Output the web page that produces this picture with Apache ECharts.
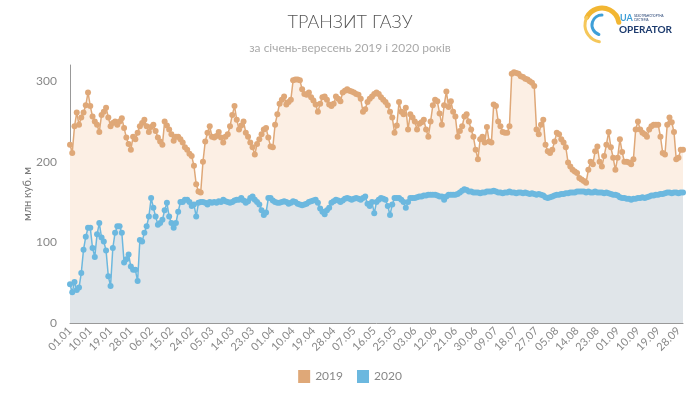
<!DOCTYPE html>
<html>
<head>
<meta charset="utf-8">
<script src="https://cdn.jsdelivr.net/npm/echarts@6/dist/echarts.min.js"></script>
<style>html,body{margin:0;padding:0;background:#fff}#c{width:700px;height:393px}</style>
</head>
<body>
<div id="c"></div>
<script>
var titleText = 'ТРАНЗИТ ГАЗУ';
var subtitleText = 'за січень-вересень 2019 і 2020 років';
var yAxisName = 'млн куб. м';
var seriesNames = ['2019', '2020'];
var yTicks = [0, 100, 200, 300];

var values2019 = [
221,211,244,261,246,255,261,270,286,269,256,250,246,237,258,262,267,255,244,248,
250,246,250,254,242,230,222,215,231,228,236,244,248,252,244,237,243,246,238,230,
225,221,250,245,240,234,226,231,231,228,224,218,215,210,207,195,172,163,162,200,
225,236,244,231,230,232,237,230,224,231,234,244,258,269,252,240,245,250,236,231,
224,218,209,222,228,234,240,242,230,219,218,246,259,272,277,281,271,274,277,301,
302,302,301,290,284,283,286,280,276,271,262,272,280,281,277,271,269,272,281,278,
275,286,288,290,288,287,286,284,283,278,262,265,274,278,281,284,286,284,280,277,
274,270,262,255,236,245,274,262,259,267,240,259,255,250,240,247,249,252,240,231,
250,270,277,275,260,246,270,287,268,275,262,256,231,238,244,256,259,250,240,231,
215,203,228,231,224,243,225,224,271,269,250,244,237,236,236,244,309,311,310,309,
306,305,303,302,300,298,294,240,234,246,252,221,213,211,215,225,236,234,228,224,
218,199,194,190,188,186,180,178,176,174,190,200,197,213,219,200,194,207,221,237,
218,205,190,205,228,212,200,200,199,197,203,240,250,240,236,234,231,240,244,246,
246,246,231,211,209,246,255,249,237,203,205,215,215
];

var values2020 = [
48,38,51,41,44,62,91,107,118,118,93,82,110,124,106,101,90,58,46,93,
112,120,120,112,75,79,85,70,66,66,52,103,101,112,120,132,155,143,132,122,
124,128,140,149,132,124,118,124,138,150,150,153,153,150,145,147,132,149,150,150,
149,147,150,149,150,149,151,150,153,151,150,149,150,152,153,153,155,152,149,151,
155,157,153,150,147,140,134,137,155,155,152,150,149,149,150,151,150,148,149,151,
150,148,147,146,147,148,150,151,152,153,149,142,138,135,140,143,149,151,153,152,
150,152,154,155,154,153,154,155,154,153,155,157,148,145,150,136,150,153,155,154,
153,145,134,147,155,155,155,153,150,143,150,155,155,155,156,157,157,158,158,159,
159,159,159,158,157,157,153,157,159,159,159,159,160,162,164,166,165,163,163,162,
162,162,161,162,162,163,163,163,164,163,162,162,161,162,162,163,162,162,161,162,
162,161,162,161,160,161,160,159,160,159,158,156,155,156,157,158,159,159,160,160,
161,161,162,162,162,163,163,163,163,162,163,162,162,163,162,162,162,161,162,161,
160,159,159,158,156,155,155,154,154,153,154,154,155,155,156,155,156,157,158,158,
159,159,160,160,161,162,162,161,162,162,161,162,162
];

// Category labels: days of Jan–Sep (dd.mm)
var monthLengths = [31,28,31,30,31,30,31,31,30];
var categories = [];
for (var m = 0; m < monthLengths.length; m++) {
  for (var d = 1; d <= monthLengths[m]; d++) {
    categories.push((d < 10 ? '0' : '') + d + '.' + (m < 9 ? '0' : '') + (m + 1));
  }
}

var chart = echarts.init(document.getElementById('c'), null, {renderer: 'canvas'});
var option = {
  backgroundColor: '#ffffff',
  animation: false,
  textStyle: {fontFamily: 'Lato'},
  title: [
    {text: titleText, left: 'center', top: 8,
     textStyle: {fontFamily: 'Lato', fontWeight: 300, fontSize: 18, color: '#555'}},
    {text: subtitleText, left: 'center', top: 37,
     textStyle: {fontFamily: 'Lato', fontWeight: 400, fontSize: 12, color: '#aaa'}}
  ],
  legend: {
    bottom: 5, left: 'center', itemWidth: 12, itemHeight: 13, itemGap: 14,
    icon: 'rect',
    textStyle: {color: '#888', fontSize: 12, fontFamily: 'Lato'},
    data: seriesNames
  },
  grid: {left: 70, right: 17, top: 65, bottom: 70},
  xAxis: {
    type: 'category', data: categories, boundaryGap: false,
    axisLine: {lineStyle: {color: '#999', width: 1}},
    axisTick: {show: false},
    axisLabel: {interval: 8, rotate: 45, color: '#888', fontSize: 11, margin: 6, fontFamily: 'Lato'}
  },
  yAxis: {
    type: 'value', min: 0, max: 320, interval: 100,
    name: yAxisName, nameLocation: 'middle', nameGap: 37, nameMoveOverlap: false,
    nameTextStyle: {color: '#777', fontSize: 11, fontFamily: 'Lato'},
    axisLine: {show: true, lineStyle: {color: '#999', width: 1}},
    axisTick: {show: false},
    splitLine: {show: false},
    axisLabel: {color: '#888', fontSize: 12, margin: 13, fontFamily: 'Lato',
      customValues: yTicks}
  },
  series: [
    {
      name: seriesNames[0], type: 'line', data: values2019,
      symbol: 'circle', symbolSize: 6, showSymbol: true, showAllSymbol: true,
      itemStyle: {color: '#dfa878'},
      lineStyle: {color: '#dfa878', width: 1.5},
      areaStyle: {color: '#fcefe4', opacity: 1},
      z: 2
    },
    {
      name: seriesNames[1], type: 'line', data: values2020,
      symbol: 'circle', symbolSize: 6, showSymbol: true, showAllSymbol: true,
      itemStyle: {color: '#6cb8df'},
      lineStyle: {color: '#6cb8df', width: 1.5},
      areaStyle: {color: '#e0e5e9', opacity: 1},
      z: 3
    }
  ],
  graphic: [
    {type: 'arc', shape: {cx: 0, cy: 0, r: 17, startAngle: Math.PI * 1.15, endAngle: Math.PI * 1.95, clockwise: true},
     position: [602, 25], style: {stroke: '#f2b632', lineWidth: 5, fill: null, lineCap: 'round'}},
    {type: 'arc', shape: {cx: 0, cy: 0, r: 17, startAngle: Math.PI * 0.55, endAngle: Math.PI * 1.15},
     position: [602, 25], style: {stroke: '#f5c75a', lineWidth: 3, fill: null, lineCap: 'round'}},
    {type: 'arc', shape: {cx: 0, cy: 0, r: 10, startAngle: Math.PI * 0.6, endAngle: Math.PI * 1.5},
     position: [602, 25], style: {stroke: '#3e9fd8', lineWidth: 3, fill: null, lineCap: 'round'}},
    {type: 'text', left: 620, top: 14, style: {text: 'UA', fill: '#3e9fd8', font: 'bold 9px Lato'}},
    {type: 'text', left: 634, top: 14, style: {text: 'ГАЗОТРАНСПОРТНА\nСИСТЕМА', fill: '#1d3b6e', font: '3px Lato', lineHeight: 4}},
    {type: 'text', left: 619, top: 25, style: {text: 'OPERATOR', fill: '#1d3b6e', font: 'bold 10px Lato'}}
  ]
};
chart.setOption(option);
</script>
</body>
</html>
